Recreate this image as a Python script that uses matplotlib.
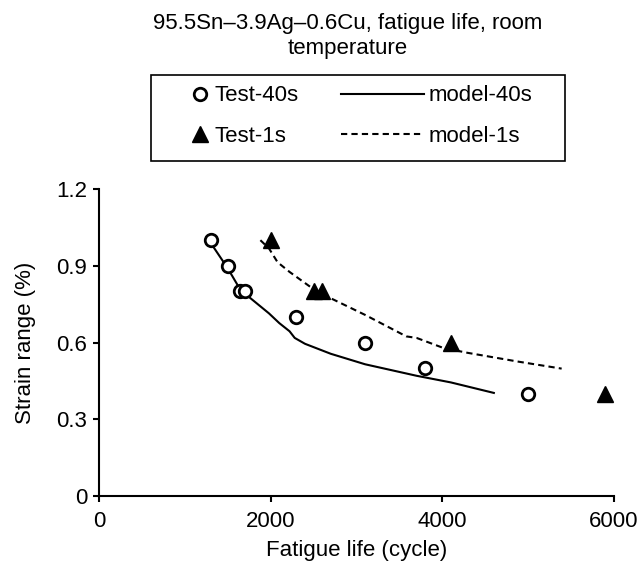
import numpy as np
import matplotlib
matplotlib.use('Agg')
import matplotlib.pyplot as plt
from matplotlib.legend_handler import HandlerLine2D
from matplotlib.patches import Rectangle

plt.rcParams['font.family'] = ['Liberation Sans', 'DejaVu Sans']

# measured points
test40_x = [1300, 1500, 1640, 1700, 2300, 3100, 3800, 5000]
test40_y = [1.0, 0.9, 0.8, 0.8, 0.7, 0.6, 0.5, 0.4]
test1_x = [2000, 2500, 2600, 4100, 5900]
test1_y = [1.0, 0.8, 0.8, 0.6, 0.4]

# model curves
model40_x = [1300, 1500, 1640, 1740, 1980, 2100, 2220, 2280, 2400, 2700, 3100, 3700, 4100, 4600]
model40_y = [0.99, 0.89, 0.81, 0.78, 0.714, 0.676, 0.644, 0.618, 0.595, 0.556, 0.515, 0.47, 0.444, 0.403]
model1_x = [1880, 1980, 2080, 2220, 2460, 2700, 3100, 3580, 3700, 4010, 4290, 4890, 5390]
model1_y = [1.0, 0.968, 0.914, 0.876, 0.818, 0.773, 0.708, 0.624, 0.618, 0.579, 0.56, 0.525, 0.498]

xticks = [0, 2000, 4000, 6000]
yticks = [0, 0.3, 0.6, 0.9, 1.2]
ytick_labels = ['0', '0.3', '0.6', '0.9', '1.2']
title = '95.5Sn\u20133.9Ag\u20130.6Cu, fatigue life, room\ntemperature'


class RightMarker(HandlerLine2D):
    # marker sits at the right end of the handle box
    def get_xdata(self, legend, xdescent, ydescent, width, height, fontsize):
        x = -xdescent + width - 0.45 * fontsize
        return np.array([x, x]), np.array([x])


class LongLine(HandlerLine2D):
    # line extends left past the handle box
    def get_xdata(self, legend, xdescent, ydescent, width, height, fontsize):
        x1 = -xdescent + width
        x0 = x1 - 3.74 * fontsize
        return np.array([x0, x1]), np.array([0.5 * (x0 + x1)])


fig = plt.figure(figsize=(6.4, 5.67), dpi=100)
ax = fig.add_axes([0.1547, 0.1252, 0.8047, 0.5414])

h1, = ax.plot(test40_x, test40_y, 'o', ms=9, mfc='white', mec='black', mew=2,
              ls='none', label='Test-40s', zorder=3)
h2, = ax.plot(test1_x, test1_y, '^', ms=11, color='black', ls='none',
              label='Test-1s', zorder=3)
h3, = ax.plot(model40_x, model40_y, '-', color='black', lw=1.5, label='model-40s')
h4, = ax.plot(model1_x, model1_y, color='black', lw=1.5, ls=(0, (3, 2)),
              label='model-1s')

ax.set_xlim(0, 6000)
ax.set_ylim(0, 1.2)
ax.set_xticks(xticks)
ax.set_yticks(yticks)
ax.set_yticklabels(ytick_labels)
for s in ['top', 'right']:
    ax.spines[s].set_visible(False)
for s in ['left', 'bottom']:
    ax.spines[s].set_linewidth(1.5)
ax.tick_params(direction='out', length=4.5, width=1.5, labelsize=16, pad=4)
ax.tick_params(axis='x', pad=6)
ax.set_xlabel('Fatigue life (cycle)', fontsize=16, labelpad=6)
ax.set_ylabel('Strain range (%)', fontsize=16)
ax.yaxis.set_label_coords(-0.1216, 0.5)

fig.text(0.544, 0.937, title, ha='center', va='center', fontsize=16,
         linespacing=1.25)

leg = fig.legend([h1, h2, h3, h4], ['Test-40s', 'Test-1s', 'model-40s', 'model-1s'],
                 ncol=2, loc='center left', bbox_to_anchor=(0.2588, 0.7954),
                 bbox_transform=fig.transFigure, frameon=False, fontsize=16,
                 borderpad=0, borderaxespad=0, handlelength=2.0, handletextpad=0.2,
                 columnspacing=3.65, labelspacing=0.87, numpoints=1,
                 handler_map={h1: RightMarker(), h2: RightMarker(),
                              h3: LongLine(), h4: LongLine()})

fig.patches.append(Rectangle((151 / 640, 1 - 161 / 567), 414 / 640, 86 / 567,
                             transform=fig.transFigure, fill=False,
                             edgecolor='black', lw=1.2))

fig.savefig('out.png', dpi=100)
